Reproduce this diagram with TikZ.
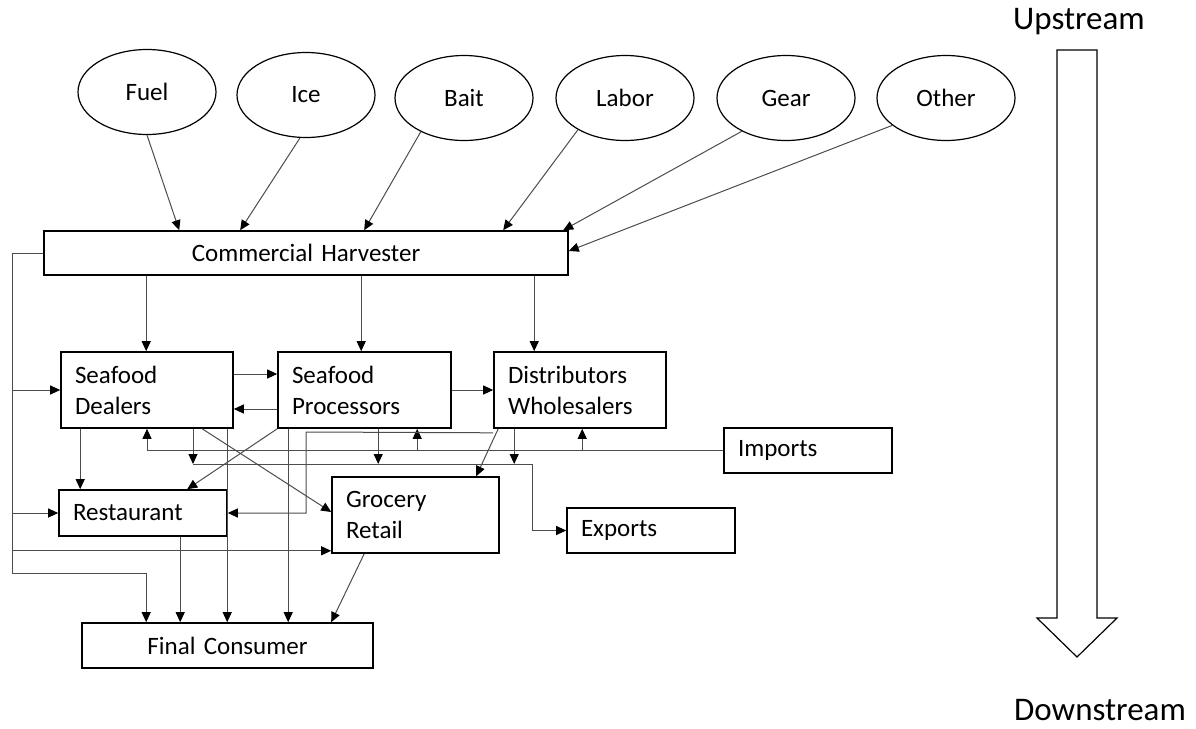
\documentclass[tikz,border=0pt]{standalone}
\usepackage{fontspec}
\setmainfont{Carlito}
\usetikzlibrary{shapes.geometric,arrows.meta}
\begin{document}
\begin{tikzpicture}[x=1pt,y=-1pt,font=\fontsize{25}{31}\selectfont,
	input/.style={draw,ellipse,line width=1.2pt,minimum width=138pt,minimum height=85pt,inner sep=0pt},
	box/.style={draw,line width=1.6pt,inner xsep=14pt,inner ysep=0pt,align=left},
	flow/.style={draw=black!70,line width=1pt,-{Triangle[length=10pt,width=9pt,color=black]}}]
	\useasboundingbox (0,0) rectangle (1196,728);

	%inputs
	\node[input] (fuel) at (147,92) {Fuel};
	\node[input] (ice) at (306,95) {Ice};
	\node[input] (bait) at (464,98) {Bait};
	\node[input] (labor) at (625,98) {Labor};
	\node[input] (gear) at (786,98) {Gear};
	\node[input] (other) at (946,98) {Other};

	%boxes
	\node[box,align=center,text width=496pt,minimum height=44pt] (harv) at (306,253) {Commercial Harvester};
	\node[box,text width=144pt,minimum height=76pt] (dealers) at (147,390) {Seafood\\Dealers};
	\node[box,text width=145pt,minimum height=76pt] (proc) at (364.5,390) {Seafood\\Processors};
	\node[box,text width=144pt,minimum height=76pt] (dist) at (580,390) {Distributors\\Wholesalers};
	\node[box,text width=140pt,minimum height=45pt] (imports) at (808,450.5) {Imports};
	\node[box,text width=140pt,minimum height=45pt] (exports) at (651,530.5) {Exports};
	\node[box,text width=139pt,minimum height=76pt] (grocery) at (415.5,515) {Grocery\\Retail};
	\node[box,text width=140pt,minimum height=46pt] (rest) at (143,513) {Restaurant};
	\node[box,align=center,text width=263pt,minimum height=45pt] (final) at (227.5,645.5) {Final Consumer};

	%inputs to harvester
	\draw[flow] (fuel.south) -- ([xshift=136pt]harv.north west); %fuel
	\draw[flow] (ice.262) -- ([xshift=197pt]harv.north west); %ice
	\draw[flow] (bait.218) -- ([xshift=321pt]harv.north west); %bait
	\draw[flow] (labor.214) -- ([xshift=460pt]harv.north west); %labor
	\draw[flow] (gear.217) -- ([xshift=520pt]harv.north west); %gear
	\draw[flow] (other.207) -- ([yshift=2pt]harv.east); %other

	%harvester down
	\coordinate (h1) at ([xshift=103pt]harv.south west);
	\coordinate (h2) at ([xshift=318pt]harv.south west);
	\coordinate (h3) at ([xshift=491pt]harv.south west);
	\draw[flow] (h1) -- (h1 |- dealers.north);
	\draw[flow] (h2) -- (h2 |- proc.north);
	\draw[flow] (h3) -- (h3 |- dist.north);

	%harvester left bus
	\coordinate (busT) at (12,253);
	\coordinate (busB) at (12,573);
	\coordinate (groIn) at ([yshift=3pt]grocery.south west);
	\draw[flow] (harv.west) -- (busT) -- (busB) -| ([xshift=65pt]final.north west); %to final
	\draw[flow] (busT |- dealers.west) -- (dealers.west); %to dealers
	\draw[flow] (busT |- rest.west) -- (rest.west); %to restaurant
	\draw[flow] (busT |- groIn) -- (groIn); %to grocery

	%between top boxes
	\draw[flow] ([yshift=16pt]dealers.east) -- ([yshift=16pt]proc.west);
	\draw[flow] ([yshift=-19pt]proc.west) -- ([yshift=-19pt]dealers.east);
	\draw[flow] (proc.east) -- (dist.west);

	%imports
	\coordinate (procUp) at ([xshift=140pt]proc.south west);
	\coordinate (distUp) at ([xshift=89pt]dist.south west);
	\draw[flow] (imports.west) -| (dealers.south); %to dealers
	\draw[flow] (imports.west -| procUp) -- (procUp); %to processors
	\draw[flow] (imports.west -| distUp) -- (distUp); %to distributors

	%exports
	\coordinate (expA) at (193,464);
	\coordinate (expB) at (532,464);
	\coordinate (procDn) at ([xshift=101pt]proc.south west);
	\coordinate (distDn) at ([xshift=21pt]dist.south west);
	\draw[flow] (expA) -- (expB) |- (exports.west);
	\draw[flow] (expA |- dealers.south) -- (expA); %from dealers
	\draw[flow] (procDn) -- (procDn |- expA); %from processors
	\draw[flow] (distDn) -- (distDn |- expA); %from distributors

	%dealers
	\coordinate (dealRest) at ([xshift=20pt]dealers.south west);
	\coordinate (dealFin) at ([xshift=167pt]dealers.south west);
	\draw[flow] (dealRest) -- (dealRest |- rest.north);
	\draw[flow] ([xshift=142pt]dealers.south west) -- ([yshift=3pt]grocery.west);
	\draw[flow] (dealFin) -- (dealFin |- final.north);

	%processors
	\coordinate (procFin) at ([xshift=11pt]proc.south west);
	\draw[flow] (proc.south west) -- ([xshift=129pt]rest.north west);
	\draw[flow] (procFin) -- (procFin |- final.north);

	%distributors
	\coordinate (distOut) at ([yshift=-4pt]dist.south west);
	\coordinate (distTurn) at (306,432);
	\draw[flow] (distOut) -- (distTurn) |- (rest.east); %to restaurant
	\draw[flow] ([xshift=5pt]dist.south west) -- ([xshift=145pt]grocery.north west); %to grocery

	%to final consumer
	\coordinate (restFin) at ([xshift=122pt]rest.south west);
	\draw[flow] (restFin) -- (restFin |- final.north);
	\draw[flow] ([xshift=33pt]grocery.south west) -- ([xshift=250pt]final.north west);

	%upstream arrow
	\draw[line width=1.2pt] (1057,50) -- (1097,50) -- (1097,618) -- (1117,618) -- (1077,657) -- (1037,618) -- (1057,618) -- cycle;
	\node[font=\fontsize{33}{40}\selectfont] (up) at (1079,22) {Upstream};
	\node[font=\fontsize{33}{40}\selectfont] (down) at (1100,710) {Downstream};
\end{tikzpicture}
\end{document}
